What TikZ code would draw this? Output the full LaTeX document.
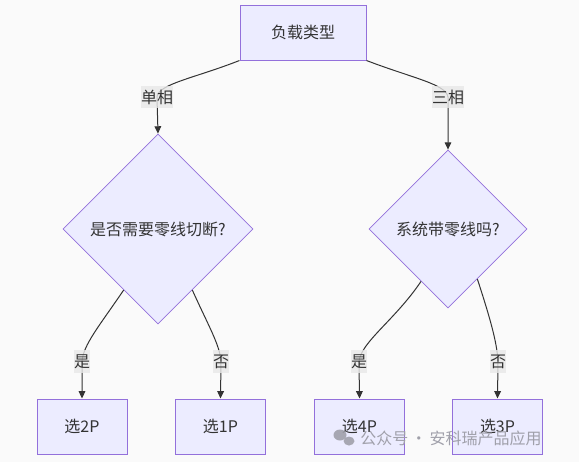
\documentclass[tikz,border=0pt]{standalone}
\usepackage{fontspec}
\setmainfont{Noto Sans CJK SC}
\usetikzlibrary{shapes.geometric,arrows.meta,calc}
\definecolor{nodefill}{HTML}{ECECFF}
\definecolor{nodeline}{HTML}{9370DB}
\definecolor{edgecol}{HTML}{333333}
\definecolor{lblfill}{HTML}{E8E8E8}
\definecolor{bgcol}{HTML}{FAFAFA}
\definecolor{txt}{HTML}{333333}
\definecolor{wm}{HTML}{A0A0AA}
\begin{document}
\begin{tikzpicture}[x=0.75pt,y=-0.75pt,
  lbl/.style={font=\fontsize{12pt}{14pt}\selectfont, text=txt},
  box/.style={lbl, draw=nodeline, fill=nodefill, line width=0.75pt, minimum height=41.25pt, inner sep=0pt},
  decision/.style={lbl, diamond, aspect=1, draw=nodeline, fill=nodefill, line width=0.6pt, inner sep=0pt},
  edge/.style={draw=edgecol, line width=0.75pt, -{Triangle[length=5.5pt,width=5pt]}},
  elabel/.style={lbl, fill=lblfill, fill opacity=0.8, text opacity=1, inner xsep=0pt, inner ysep=0pt, minimum height=17pt},
  wmark/.style={font=\fontsize{12pt}{14pt}\selectfont, text=wm}
]
\fill[bgcol] (0,0) rectangle (579,462);
\useasboundingbox (0,0) rectangle (579,462);

% nodes
\node[box, minimum width=94.5pt] (top) at (303,32.5) {负载类型};
\node[decision, minimum width=142.5pt, minimum height=142.5pt] (ld) at (158,229) {是否需要零线切断?};
\node[decision, minimum width=118.5pt, minimum height=118.5pt] (rd) at (448,229) {系统带零线吗?};
\node[box, minimum width=67.5pt] (b1) at (82,426.5) {选2P};
\node[box, minimum width=67.5pt] (b2) at (220.5,426.5) {选1P};
\node[box, minimum width=67.5pt] (b3) at (359.5,426.5) {选4P};
\node[box, minimum width=67.5pt] (b4) at (497.5,426.5) {选3P};

% label positions
\coordinate (l1) at (157,97);
\coordinate (l2) at (448,97);
\coordinate (l3) at (82,361.5);
\coordinate (l4) at (221,361.5);
\coordinate (l5) at (359,361.5);
\coordinate (l6) at (498,361.5);

% connectors
\draw[edge] (top.south west) .. controls (195,78) and (158,84) .. (l1) -- (ld.north);
\draw[edge] (top.south east) .. controls (412,78) and (446,84) .. (l2) -- (rd.north);
\draw[edge] ($(ld.west)!0.64!(ld.south)$) .. controls (100,325) and (83,345) .. (l3) -- (b1.north);
\draw[edge] ($(ld.south)!0.36!(ld.east)$) .. controls (208,325) and (220,345) .. (l4) -- (b2.north);
\draw[edge] ($(rd.west)!0.66!(rd.south)$) .. controls (395,320) and (361,342) .. (l5) -- (b3.north);
\draw[edge] ($(rd.east)!0.63!(rd.south)$) .. controls (490,318) and (497,342) .. (l6) -- (b4.north);

% edge labels
\node[elabel] (t1) at (l1) {单相};
\node[elabel] (t2) at (l2) {三相};
\node[elabel] (t3) at (l3) {是};
\node[elabel] (t4) at (l4) {否};
\node[elabel] (t5) at (l5) {是};
\node[elabel] (t6) at (l6) {否};

% watermark
\fill[wm, fill opacity=0.9] (340,435) ellipse [x radius=6.5, y radius=5.5];
\fill[wm, fill opacity=0.9] (349,441) ellipse [x radius=5.5, y radius=4.5];
\node[wmark, anchor=west, inner sep=0pt] (wmtext) at (360,438) {公众号\,·\,安科瑞产品应用};
\end{tikzpicture}
\end{document}
